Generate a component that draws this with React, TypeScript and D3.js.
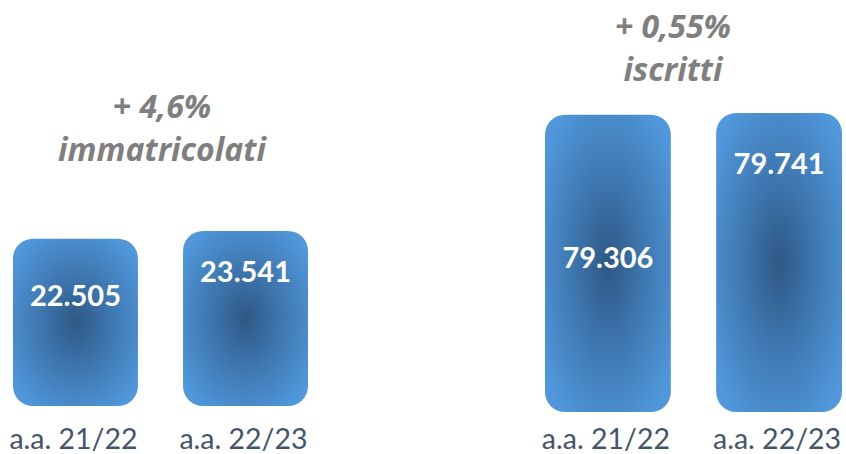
import React from "react";
import * as d3 from "d3";

const categories = ["a.a. 21/22", "a.a. 22/23"];
const immatricolati = [22505, 23541];
const iscritti = [79306, 79741];
const leftTitle = ["+ 4,6%", "immatricolati"];
const rightTitle = ["+ 0,55%", "iscritti"];

const W = 846;
const H = 454;
const fmt = (v: number) => d3.format(",")(v).replace(/,/g, ".");

type GroupProps = {
  id: string;
  values: number[];
  x0: number;
  x1: number;
  base: number;
  top: number;
  labelFrac: number[];
  title: string[];
  titleX: number;
  titleY: number;
};

function Group({ id, values, x0, x1, base, top, labelFrac, title, titleX, titleY }: GroupProps) {
  const x = d3.scaleBand<string>().domain(categories).range([x0, x1]).paddingInner(0.265).paddingOuter(0);
  const y = d3.scaleLinear().domain([0, d3.max(values) as number]).range([base, top]);
  return (
    <g>
      {values.map((v, i) => {
        const bx = x(categories[i]) as number;
        const bw = x.bandwidth();
        const by = y(v);
        const bh = base - by;
        return (
          <g key={i}>
            <rect x={bx} y={by} width={bw} height={bh} rx={20} ry={20} fill={`url(#${id}grad)`} />
            <text
              x={bx + bw / 2}
              y={by + bh * labelFrac[i]}
              dy="0.36em"
              textAnchor="middle"
              fill="#ffffff"
              fontFamily="Lato"
              fontWeight={700}
              fontSize={29}
            >
              {fmt(v)}
            </text>
            <text
              x={bx + bw / 2 - 2}
              y={449}
              textAnchor="middle"
              fill="#44546A"
              fontFamily="Lato"
              fontSize={28.5}
            >
              {categories[i]}
            </text>
          </g>
        );
      })}
      {title.map((t, i) => (
        <text
          key={t}
          x={titleX}
          y={titleY + i * 43}
          textAnchor="middle"
          fill="#7F7F7F"
          fontFamily="Open Sans"
          fontStyle="italic"
          fontWeight={700}
          fontSize={32}
        >
          {t}
        </text>
      ))}
    </g>
  );
}

export default function App() {
  return (
    <svg width={W} height={H} style={{ position: "absolute", left: 0, top: 0, background: "#fff" }}>
      <defs>
        {["L", "R"].map((k) => (
          <radialGradient key={k} id={`${k}grad`} cx="0.5" cy="0.5" r="0.62">
            <stop offset="0" stopColor="#2E5884" />
            <stop offset="0.45" stopColor="#3E76AF" />
            <stop offset="1" stopColor="#5098DB" />
          </radialGradient>
        ))}
      </defs>
      <Group
        id="L"
        values={immatricolati}
        x0={13}
        x1={308}
        base={406}
        top={231}
        labelFrac={[0.34, 0.23]}
        title={leftTitle}
        titleX={162}
        titleY={118}
      />
      <Group
        id="R"
        values={iscritti}
        x0={545}
        x1={842}
        base={412}
        top={113}
        labelFrac={[0.48, 0.17]}
        title={rightTitle}
        titleX={673}
        titleY={38}
      />
    </svg>
  );
}
